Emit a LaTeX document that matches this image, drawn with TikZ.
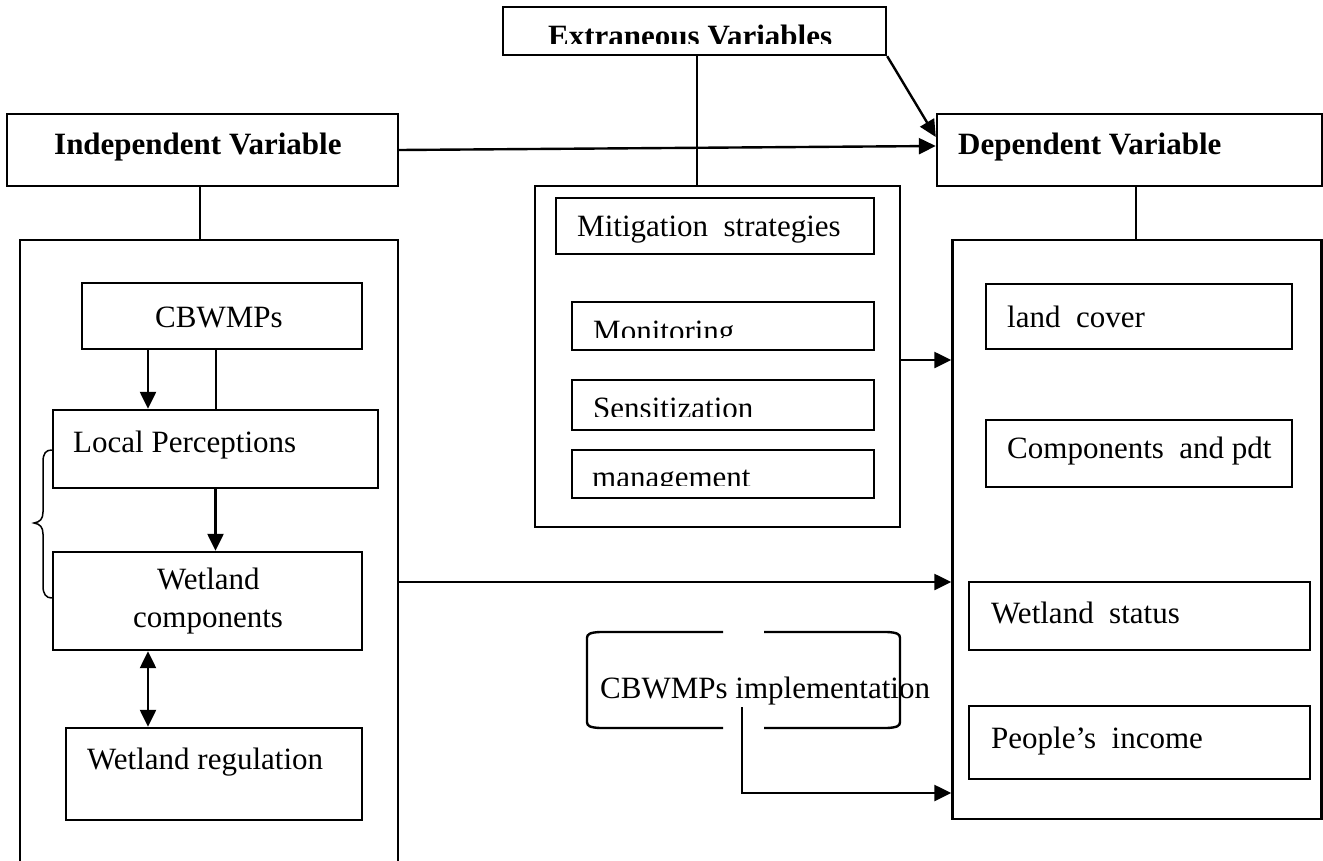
\documentclass[tikz,border=0pt]{standalone}
\usepackage{fontspec}
\setmainfont{Liberation Serif}
\usetikzlibrary{arrows.meta,calc}
\tikzset{
  box/.style={draw, line width=2.4pt, rectangle, inner sep=0pt},
  txt/.style={inner sep=0pt, anchor=base west, font=\fontsize{31}{37}\selectfont},
  conn/.style={line width=2.4pt},
  arr/.style={line width=2.4pt, -{Triangle[length=17pt,width=16pt]}},
  darr/.style={line width=2.4pt, {Triangle[length=17pt,width=16pt]}-{Triangle[length=17pt,width=16pt]}}
}
\begin{document}
\begin{tikzpicture}[x=1pt,y=-1pt]
\useasboundingbox (0,0) rectangle (1323,860);
\fill[white] (0,0) rectangle (1323,860);
% outer boxes
\node[box, minimum width=383pt, minimum height=48pt] (ext) at (694.5,31) {};
\node[box, minimum width=391pt, minimum height=72pt] (ind) at (202.5,150) {};
\node[box, minimum width=385pt, minimum height=72pt] (dep) at (1129.5,150) {};
\node[box, minimum width=378pt, minimum height=630pt] (lbox) at (209,555) {};
\node[box, minimum width=365pt, minimum height=341pt] (mbox) at (717.5,356.5) {};
\node[box, minimum width=369pt, minimum height=579pt] (rbox) at (1137,529.5) {};
% left inner boxes
\node[box, minimum width=280pt, minimum height=66pt] (cbw) at (222,316) {};
\node[box, minimum width=325pt, minimum height=78pt] (lp) at (215.5,449) {};
\node[box, minimum width=309pt, minimum height=98pt] (wc) at (207.5,601) {};
\node[box, minimum width=296pt, minimum height=92pt] (wr) at (214,774) {};
% middle inner boxes
\node[box, minimum width=318pt, minimum height=56pt] (mit) at (715,226) {};
\node[box, minimum width=302pt, minimum height=48pt] (mon) at (723,326) {};
\node[box, minimum width=302pt, minimum height=50pt] (sen) at (723,405) {};
\node[box, minimum width=302pt, minimum height=48pt] (man) at (723,474) {};
% right inner boxes
\node[box, minimum width=306pt, minimum height=65pt] (lc) at (1139,316.5) {};
\node[box, minimum width=306pt, minimum height=67pt] (cp) at (1139,453.5) {};
\node[box, minimum width=341pt, minimum height=68pt] (ws) at (1139.5,616) {};
\node[box, minimum width=341pt, minimum height=73pt] (pi) at (1139.5,742.5) {};
% texts
\begin{scope}
  \clip (503,7) rectangle (886,43);
  \node[txt] (t-ext) at (548,46) {\bfseries Extraneous Variables};
\end{scope}
\node[txt] (t-ind) at (54,154) {\bfseries Independent Variable};
\node[txt] (t-dep) at (958,154) {\bfseries Dependent Variable};
\node[txt] (t-cbw) at (155,327) {CBWMPs};
\node[txt] (t-lp) at (73,452) {Local Perceptions};
\node[txt] (t-wc1) at (157,589) {Wetland};
\node[txt] (t-wc2) at (133,627) {components};
\node[txt] (t-wr) at (87,769) {Wetland regulation};
\node[txt] (t-mit) at (577,236) {Mitigation \ strategies};
\begin{scope}
  \clip (572,302) rectangle (874,337);
  \node[txt] (t-mon) at (593,341) {Monitoring};
\end{scope}
\begin{scope}
  \clip (572,380) rectangle (874,416);
  \node[txt] (t-sen) at (593,418) {Sensitization};
\end{scope}
\begin{scope}
  \clip (572,450) rectangle (874,485);
  \node[txt] (t-man) at (592,487) {management};
\end{scope}
\node[txt] (t-lc) at (1007,327) {land \ cover};
\node[txt] (t-cp) at (1007,458) {Components \ and pdt};
\node[txt] (t-ws) at (991,623) {Wetland \ status};
\node[txt] (t-pi) at (991,748) {People’s \ income};
\node[txt] (t-impl) at (600,698) {CBWMPs implementation};
% CBWMPs implementation outline
\draw[conn] (723,632) -- (600,632) .. controls (590,632.5) and (587,634) .. (587,638) -- (587,722) .. controls (587,726) and (590,727.5) .. (600,728) -- (723,728);
\draw[conn] (764,632) -- (887,632) .. controls (897,632.5) and (900,634) .. (900,638) -- (900,722) .. controls (900,726) and (897,727.5) .. (887,728) -- (764,728);
% connector anchor points
\coordinate (c-ext) at ($(ext.south)+(2.5,0)$);
\coordinate (c-dep1) at ($(dep.west)+(0,-13)$);
\coordinate (c-dep2) at ($(dep.west)+(0,-4)$);
\coordinate (c-ind) at ($(ind.south)+(-2.5,0)$);
\coordinate (c-dep) at ($(dep.south)+(6.5,0)$);
\coordinate (c-cbw1) at ($(cbw.south)+(-74,0)$);
\coordinate (c-cbw2) at ($(cbw.south)+(-6,0)$);
\coordinate (c-wc) at ($(wc.south)+(-59.5,0)$);
\coordinate (c-mbox) at ($(mbox.east)+(0,3.5)$);
\coordinate (c-lbox) at ($(lbox.east)+(0,27)$);
\coordinate (c-rin) at ($(rbox.west)+(0,263.5)$);
\coordinate (implout) at (742,707);
% connectors
\draw[conn] (c-ext) -- (c-ext |- mbox.north);
\draw[arr] (ext.south east) -- (c-dep1);
\draw[arr] (ind.east) -- (c-dep2);
\draw[conn] (c-ind) -- (c-ind |- lbox.north);
\draw[conn] (c-dep) -- (c-dep |- rbox.north);
\draw[arr] (c-cbw1) -- (c-cbw1 |- lp.north);
\draw[conn] (c-cbw2) -- (c-cbw2 |- lp.north);
\draw[arr] (lp.south) -- (lp.south |- wc.north);
\draw[darr] (c-wc) -- (c-wc |- wr.north);
\draw[arr] (c-mbox) -- (c-mbox -| rbox.west);
\draw[arr] (c-lbox) -- (c-lbox -| rbox.west);
\draw[arr] (implout) |- (c-rin);
% brace
\draw[line width=1.5pt] ($(lp.west)+(0,1)$) .. controls (46,450) and (43,453) .. (43,462) -- (43,512) .. controls (43,519) and (40,522) .. (34,523) .. controls (40,524) and (43,527) .. (43,534) -- (43,586) .. controls (43,594) and (46,598) .. ($(wc.west)+(0,-3)$);
\end{tikzpicture}
\end{document}
